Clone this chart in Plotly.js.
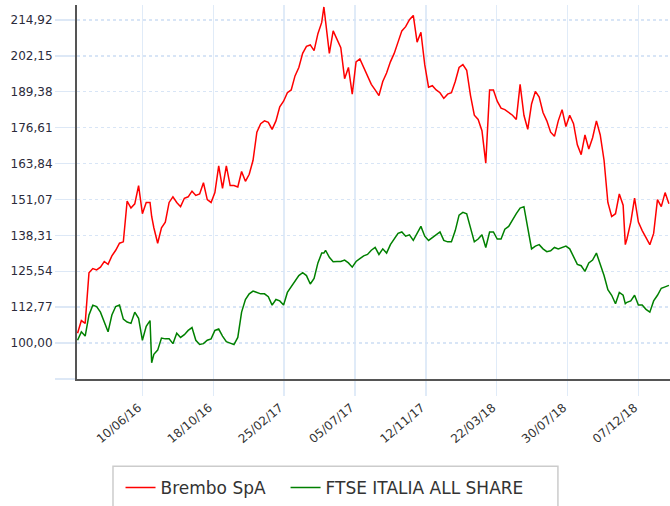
<!DOCTYPE html>
<html><head><meta charset="utf-8">
<script src="https://cdn.plot.ly/plotly-3.0.1.min.js"></script>
<style>html,body{margin:0;padding:0;background:#fff;}#chart{width:670px;height:506px;}</style>
</head><body><div id="chart"></div>
<script>
const dates = [
'2016-02-12','2016-02-19','2016-02-26','2016-03-04','2016-03-11','2016-03-18','2016-03-25','2016-04-01','2016-04-08','2016-04-15',
'2016-04-22','2016-04-29','2016-05-06','2016-05-13','2016-05-20','2016-05-27','2016-06-03','2016-06-10','2016-06-17','2016-06-24',
'2016-06-27',
'2016-07-01','2016-07-08','2016-07-15','2016-07-22','2016-07-29','2016-08-05','2016-08-12','2016-08-19','2016-08-26','2016-09-02',
'2016-09-09','2016-09-16','2016-09-23','2016-09-30','2016-10-07','2016-10-14','2016-10-21','2016-10-28','2016-11-04','2016-11-11',
'2016-11-18','2016-11-25','2016-12-02','2016-12-09','2016-12-16','2016-12-23','2016-12-30','2017-01-06','2017-01-13','2017-01-20',
'2017-01-27','2017-02-03','2017-02-10','2017-02-17','2017-02-24','2017-03-03','2017-03-10','2017-03-17','2017-03-24','2017-03-31',
'2017-04-07','2017-04-14','2017-04-21','2017-04-28','2017-05-05',
'2017-05-09',
'2017-05-12','2017-05-19','2017-05-26','2017-06-02','2017-06-09','2017-06-16','2017-06-23','2017-06-30','2017-07-07','2017-07-14',
'2017-07-21','2017-07-28','2017-08-04','2017-08-11','2017-08-18','2017-08-25','2017-09-01','2017-09-08','2017-09-15','2017-09-22',
'2017-09-29','2017-10-06','2017-10-13','2017-10-20','2017-10-27','2017-11-03','2017-11-10','2017-11-17','2017-11-24','2017-12-01',
'2017-12-08','2017-12-15','2017-12-22','2017-12-29','2018-01-05','2018-01-12','2018-01-19','2018-01-26','2018-02-02','2018-02-09',
'2018-02-16','2018-02-23','2018-03-02','2018-03-09','2018-03-16','2018-03-23','2018-03-30','2018-04-06','2018-04-13','2018-04-20',
'2018-04-27','2018-05-04','2018-05-11','2018-05-18','2018-05-25','2018-06-01','2018-06-08','2018-06-15','2018-06-22','2018-06-29',
'2018-07-06','2018-07-13','2018-07-20','2018-07-27','2018-08-03','2018-08-10','2018-08-17','2018-08-24','2018-08-31','2018-09-07',
'2018-09-14','2018-09-21','2018-09-28','2018-10-05','2018-10-12','2018-10-19','2018-10-26','2018-11-02','2018-11-09',
'2018-11-13',
'2018-11-16','2018-11-23','2018-11-30','2018-12-07','2018-12-14','2018-12-21','2018-12-28','2019-01-04','2019-01-11','2019-01-18',
'2019-01-25','2019-02-01'
];
const brembo = [
103.5,108,107,125,126.5,126,127,129,128,131,
133,135.5,136,150.5,148,149.5,156,146,150,150,
145,
141,135.5,141,143,150,152,150,148.5,151.5,152,
154,152.5,153,157,151,150,153.5,163,155,163,
156,156,155.5,161,157.5,160,165,175,178,179,
178.5,176,179,184,186,189,190,195,198,203,
205.5,206,204,210,214,
219.5,
214,203,211,208,205,194,198,188.5,200,201,
198,195,192,190,188,193,196,200,203,207,
211,212.5,215,216.5,207,210.5,199,191,191.5,190,
189,187,188.5,189,193,198,199,197,188,181,
179.5,175.5,164,190,190,186,183.5,183,182,181,
179.5,192,181,176,185,189.5,187.5,182,179,175,
173.5,179,183,177,181,178,170.5,167,174,169,
173,179,174,165,150,145,146,153,149,
135,
137,143,151.5,143,140,137.5,135,139,151,148.5,
153.5,149.5
];
const ftse = [
101,104,102.5,110,113.5,113,111,107.5,104,110,
113,113.5,108.5,107.5,107,111,108.8,101,106,108,
93,
96,97.5,101.8,101.5,101.5,99.8,103.5,102,103,104.5,
105.5,101,99.5,99.8,101,101.5,104.5,105,102.5,100.5,
100,99.5,102,111,115.5,117.5,118.5,118,117.5,117.5,
116.5,113.5,115.5,115,113.5,118,120,122,124,125,
124,121,123,128.5,132,
132,
133,130.5,128.9,129,129,129.5,128.5,127,129,130,
131,131.5,133,134,131.5,133.5,132,135,137,139,
139.5,138,138.5,136.5,139,141.5,138,136.5,137.5,138.5,
139.5,136.5,136,136,140,145.5,146.5,146,141,136,
137,138.5,134,139.5,139.5,137,137,140.5,141.5,144,
146,148,148.5,141,133.5,134.5,135,133.5,132.5,132.8,
134,133.5,134,134.5,133.5,131,128,127.5,125.5,128.5,
129.5,132,128,124,119,117,114,118,117,
114,
114.5,115,117,113.5,113.5,112,111,115,117,119.5,
120,120.5
];
const seriesNames = ['Brembo SpA', 'FTSE ITALIA ALL SHARE'];
const seriesColors = ['#ff0000', '#008000'];
const xTickDates = ['2016-06-10','2016-10-18','2017-02-25','2017-07-05','2017-11-12','2018-03-22','2018-07-30','2018-12-07'];
const xTickLabels = ['10/06/16','18/10/16','25/02/17','05/07/17','12/11/17','22/03/18','30/07/18','07/12/18'];
const yTickValues = [87.23,100,112.77,125.54,138.31,151.07,163.84,176.61,189.38,202.15,214.92];
const yTickLabels = ['','100,00','112,77','125,54','138,31','151,07','163,84','176,61','189,38','202,15','214,92'];

const legendIds = ['legend', 'legend2'];
const traces = [brembo, ftse].map((vals, k) => ({
  type: 'scatter', mode: 'lines', x: dates, y: vals, name: seriesNames[k],
  legend: legendIds[k],
  line: {color: seriesColors[k], width: 1.5}, hoverinfo: 'skip'
}));

const legendStyle = {
  orientation: 'h', xanchor: 'left', y: -0.243, yanchor: 'top',
  font: {size: 17, color: '#333'}, bgcolor: 'rgba(0,0,0,0)', borderwidth: 0
};

const layout = {
  width: 670, height: 506,
  margin: {l: 77, r: 0, t: 5, b: 124},
  paper_bgcolor: '#fff', plot_bgcolor: '#fff',
  font: {family: 'DejaVu Sans, Verdana, sans-serif', color: '#333'},
  showlegend: true,
  xaxis: {
    type: 'date', range: ['2016-02-11', '2019-02-03'],
    tickmode: 'array', tickvals: xTickDates, ticktext: xTickLabels, tickangle: -40,
    ticklabelshift: -4,
    ticks: 'outside', ticklen: 15, tickwidth: 1.5, tickcolor: '#e0ebf8',
    showgrid: true, gridcolor: '#e0ebf8', gridwidth: 1.5,
    showline: true, linecolor: '#555', linewidth: 2, zeroline: false,
    tickfont: {size: 12, color: '#333'}
  },
  yaxis: {
    range: [87.23, 220.2],
    tickmode: 'array', tickvals: yTickValues, ticktext: yTickLabels,
    ticks: 'outside', ticklen: 20, tickwidth: 1.5, tickcolor: '#dde8f6',
    showgrid: true, gridcolor: '#d8e5f6', gridwidth: 1.5, griddash: 'dot',
    showline: true, linecolor: '#555', linewidth: 2, zeroline: false,
    tickfont: {size: 12, color: '#2b2b3b'}
  },
  legend: Object.assign({}, legendStyle, {x: 0.0734}),
  legend2: Object.assign({}, legendStyle, {x: 0.3517}),
  shapes: [{
    type: 'rect', xref: 'paper', yref: 'paper',
    x0: 0.0607, x1: 0.811, y0: -0.36, y1: -0.2334,
    line: {color: '#cccccc', width: 1.5}, fillcolor: 'rgba(0,0,0,0)'
  }]
};

Plotly.newPlot('chart', traces, layout, {displayModeBar: false, staticPlot: true});
</script>
</body></html>
